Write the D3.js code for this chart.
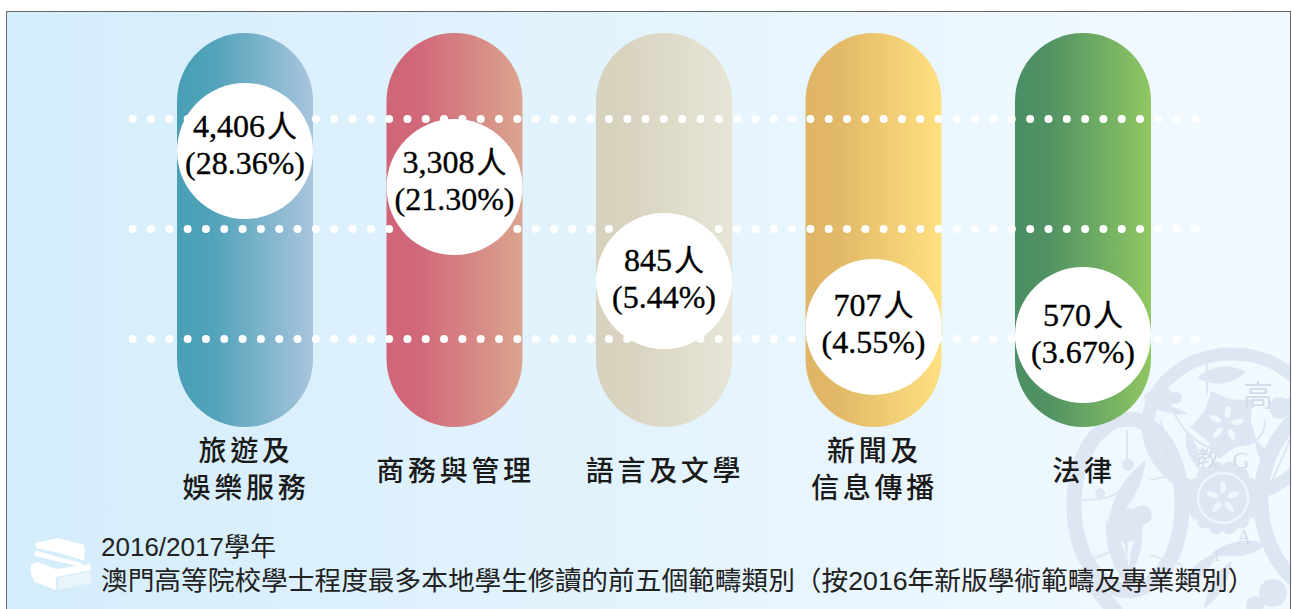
<!DOCTYPE html>
<html>
<head>
<meta charset="utf-8">
<script src="https://cdn.jsdelivr.net/npm/d3@7"></script>
<style>
    html, body { margin: 0; padding: 0; background: #fff; overflow: hidden; }
    svg { display: block; }
</style>
</head>
<body>
<div id="chart"></div>
<script>
const categoryLines = [
    ['旅遊及', '娛樂服務'],
    ['商務與管理'],
    ['語言及文學'],
    ['新聞及', '信息傳播'],
    ['法律']
];
const students = [4406, 3308, 845, 707, 570];
const shares = ['28.36', '21.30', '5.44', '4.55', '3.67'];
// how far up the capsule each bubble sits (percent of capsule height)
const bubbleLevels = [70.05, 60.9, 37.05, 25.4, 23.35];
const dotLevels = [78.2, 50.25, 22.35];
const titleLines = [
    '2016/2017學年',
    '澳門高等院校學士程度最多本地學生修讀的前五個範疇類別（按2016年新版學術範疇及專業類別）'
];
const capsuleColors = [
    ['#4a9fb6', '#4fa2b8', '#a9c5de'],
    ['#d06577', '#d1697a', '#dba48f'],
    ['#d7d2bd', '#d9d4c0', '#e6e5d6'],
    ['#dfb466', '#e2b968', '#ffe080'],
    ['#4b8e63', '#509263', '#90c762']
];

const width = 1292, height = 609;
const capsuleWidth = 136, bubbleRadius = 68;
const emblemColor = '#dfe6f3', emblemText = '#d3dcec';
// small vertical nudge of the text inside each bubble
const textNudge = [-2, -2, 2, 1, 3];

const svg = d3.select('#chart').append('svg')
    .attr('width', width)
    .attr('height', height);

const defs = svg.append('defs');

const bg = defs.append('linearGradient').attr('id', 'bg');
bg.append('stop').attr('offset', '0%').attr('stop-color', '#d4edfb');
bg.append('stop').attr('offset', '100%').attr('stop-color', '#f3faff');

capsuleColors.forEach((c, i) => {
    const g = defs.append('linearGradient').attr('id', `capsule-${i}`);
    g.append('stop').attr('offset', '0%').attr('stop-color', c[0]);
    g.append('stop').attr('offset', '25%').attr('stop-color', c[1]);
    g.append('stop').attr('offset', '100%').attr('stop-color', c[2]);
});

// Panel
svg.append('rect')
    .attr('x', 6.5)
    .attr('y', 11.5)
    .attr('width', 1284)
    .attr('height', 620)
    .attr('fill', 'url(#bg)')
    .attr('stroke', '#666')
    .attr('stroke-width', 1);

const clip = defs.append('clipPath').attr('id', 'panel-clip');
clip.append('rect').attr('x', 7).attr('y', 12).attr('width', 1283).attr('height', 600);

// Watermark emblem, lower right corner
const emblem = svg.append('g').attr('clip-path', 'url(#panel-clip)');

function ring(cx, cy, rx, ry, w) {
    emblem.append('ellipse')
        .attr('cx', cx).attr('cy', cy).attr('rx', rx).attr('ry', ry)
        .attr('fill', 'none').attr('stroke', emblemColor).attr('stroke-width', w);
}
function blob(cx, cy, r) {
    emblem.append('circle').attr('cx', cx).attr('cy', cy).attr('r', r).attr('fill', emblemColor);
}
function leaf(x1, y1, x2, y2, bulge) {
    const mx = (x1 + x2) / 2, my = (y1 + y2) / 2;
    const dx = x2 - x1, dy = y2 - y1, len = Math.hypot(dx, dy);
    const nx = -dy / len * bulge, ny = dx / len * bulge;
    emblem.append('path')
        .attr('d', `M${x1},${y1}Q${mx + nx},${my + ny} ${x2},${y2}Q${mx - nx},${my - ny} ${x1},${y1}Z`)
        .attr('fill', emblemColor);
}
function stem(d) {
    emblem.append('path').attr('d', d).attr('fill', 'none')
        .attr('stroke', emblemColor).attr('stroke-width', 2);
}
function petals(cx, cy, n, r, len, w, color, rot) {
    d3.range(n).forEach(i => {
        emblem.append('ellipse')
            .attr('cx', 0).attr('cy', -r).attr('rx', w).attr('ry', len)
            .attr('fill', color)
            .attr('transform', `translate(${cx},${cy}) rotate(${rot + i * 360 / n})`);
    });
}

// the three big lobes
ring(1128, 505, 54, 86, 15);
ring(1345, 500, 84, 100, 15);
ring(1232, 425, 84, 71, 13);
emblem.append('path')
    .attr('d', 'M1086,575Q1120,620 1160,660')
    .attr('fill', 'none').attr('stroke', emblemColor).attr('stroke-width', 15);
stem('M1127,430L1127,465');
stem('M1082,500Q1110,500 1122,490');
stem('M1150,480L1175,475');
stem('M1085,562L1110,552');
stem('M1150,555L1182,565');
stem('M1207,362L1207,395');
stem('M1170,405Q1190,450 1226,450');
stem('M1265,420Q1265,450 1225,445');
stem('M1195,520L1160,420');
stem('M1255,520L1290,440');

// upper flower
const star = d3.lineRadial().curve(d3.curveLinearClosed);
emblem.append('path')
    .attr('d', star(d3.range(10).map(i => [i * Math.PI / 5 - 0.42, i % 2 ? 25 : 36])))
    .attr('transform', 'translate(1226,424)')
    .attr('fill', emblemColor);
petals(1226, 424, 5, 12, 6, 3, '#f1f7fd', 8);
leaf(1197, 378, 1246, 372, 17);
leaf(1186, 432, 1200, 470, 10);
leaf(1255, 440, 1272, 470, 9);
blob(1163, 399, 11);
blob(1150, 398, 6);
blob(1176, 398, 6);
leaf(1150, 405, 1188, 414, 7);
blob(1280, 408, 11);
blob(1292, 405, 8);

// centre medallion
d3.range(14).forEach(i => {
    const a = i * 2 * Math.PI / 14;
    blob(1223 + 29 * Math.cos(a), 498 + 29 * Math.sin(a), 8);
});
blob(1223, 498, 30);
emblem.append('circle')
    .attr('cx', 1223).attr('cy', 498).attr('r', 25)
    .attr('fill', 'none').attr('stroke', '#eef6fd').attr('stroke-width', 2.5);
petals(1223, 498, 5, 11, 6, 3, '#eef6fd', 0);

// left lobe flower
blob(1126, 525, 17);
blob(1142, 515, 10);
blob(1128, 465, 6);
blob(1100, 493, 5);
leaf(1146, 460, 1108, 525, 16);
leaf(1106, 520, 1130, 590, 15);
leaf(1142, 525, 1130, 575, 9);
leaf(1127, 560, 1124, 500, 5);

// lower leaves
leaf(1212, 553, 1268, 544, 15);
leaf(1178, 590, 1218, 552, 12);
leaf(1204, 609, 1232, 560, 12);
blob(1273, 593, 14);
blob(1255, 605, 9);

// emblem lettering
[['高', 1258, 406, 30], ['教', 1208, 466, 22], ['G', 1241, 468, 24], ['A', 1244, 544, 20], ['F', 1219, 561, 16]]
    .forEach(d => {
        emblem.append('text')
            .attr('x', d[1]).attr('y', d[2])
            .attr('text-anchor', 'middle')
            .style('font-family', /[A-Z]/.test(d[0]) ? '"Liberation Serif"' : '"Noto Sans CJK TC"')
            .style('font-size', d[3] + 'px')
            .style('fill', emblemText)
            .text(d[0]);
    });

// Scales
const xScale = d3.scalePoint()
    .domain(d3.range(categoryLines.length))
    .range([245, 1083]);

const yScale = d3.scaleLinear()
    .domain([0, 100])
    .range([427, 33]);

// Capsules
svg.selectAll('.capsule')
    .data(students)
    .join('rect')
    .attr('class', 'capsule')
    .attr('x', (d, i) => xScale(i) - capsuleWidth / 2)
    .attr('y', yScale(100))
    .attr('width', capsuleWidth)
    .attr('height', yScale(0) - yScale(100))
    .attr('rx', capsuleWidth / 2)
    .attr('fill', (d, i) => `url(#capsule-${i})`);

// Dotted guide rows
const dotX = d3.scaleLinear().domain([0, 58]).range([132.7, 1195]);
dotLevels.forEach(level => {
    svg.append('g').selectAll('circle')
        .data(d3.range(59))
        .join('circle')
        .attr('cx', d => dotX(d))
        .attr('cy', yScale(level))
        .attr('r', 4)
        .attr('fill', '#fff');
});

// Bubbles
const bubble = svg.selectAll('.bubble')
    .data(students)
    .join('g')
    .attr('class', 'bubble')
    .attr('transform', (d, i) => `translate(${xScale(i)},${yScale(bubbleLevels[i])})`);

bubble.append('circle')
    .attr('r', bubbleRadius)
    .attr('fill', '#fff');

const countText = bubble.append('text')
    .attr('y', (d, i) => -12 + textNudge[i])
    .attr('text-anchor', 'middle')
    .style('fill', '#000')
    .style('stroke', '#000')
    .style('stroke-width', 0.35);
countText.append('tspan')
    .style('font-family', '"Liberation Serif"')
    .style('font-size', '32px')
    .text(d => d3.format(',')(d));
countText.append('tspan')
    .attr('dx', 2)
    .style('font-family', '"Noto Sans CJK TC"')
    .style('font-size', '30px')
    .style('font-weight', 400)
    .text('人');

bubble.append('text')
    .attr('y', (d, i) => 25 + textNudge[i])
    .attr('text-anchor', 'middle')
    .style('font-family', '"Liberation Serif"')
    .style('font-size', '32px')
    .style('fill', '#000')
    .style('stroke', '#000')
    .style('stroke-width', 0.35)
    .text((d, i) => `(${shares[i]}%)`);

// Category labels
categoryLines.forEach((lines, i) => {
    const firstBaseline = lines.length > 1 ? 461 : 481;
    lines.forEach((line, j) => {
        svg.append('text')
            .attr('x', xScale(i) + 1)
            .attr('y', firstBaseline + j * 37)
            .attr('text-anchor', 'middle')
            .style('font-family', '"Noto Sans CJK TC"')
            .style('font-size', '28px')
            .style('font-weight', 500)
            .style('letter-spacing', '3.7px')
            .style('fill', '#1a1a1a')
            .text(line);
    });
});

// Books icon
const books = svg.append('g').attr('fill', '#fff');
books.append('path').attr('d', 'M35,543L58,538L84,545L85,551Q83,556 85,561L60,553L36,548Z');
books.append('path').attr('d', 'M34,552L38,551L62,558L82,563L82,567L56,561L35,556Z');
books.append('path').attr('d', 'M31,565L37,562L56,569L90,564L91,570L56,577L56,590L35,582Q29,574 31,565Z');
books.append('path').attr('d', 'M58,578L91,571L91,583L58,590Z').attr('fill', '#e9f4fb');

// Title
svg.selectAll('.title')
    .data(titleLines)
    .join('text')
    .attr('class', 'title')
    .attr('x', 101)
    .attr('y', (d, i) => 556 + i * 34)
    .style('font-family', '"Liberation Sans", "Noto Sans CJK TC"')
    .style('font-size', (d, i) => i ? '26.7px' : '26px')
    .style('font-weight', 400)
    .style('fill', '#222')
    .text(d => d);
</script>
</body>
</html>
